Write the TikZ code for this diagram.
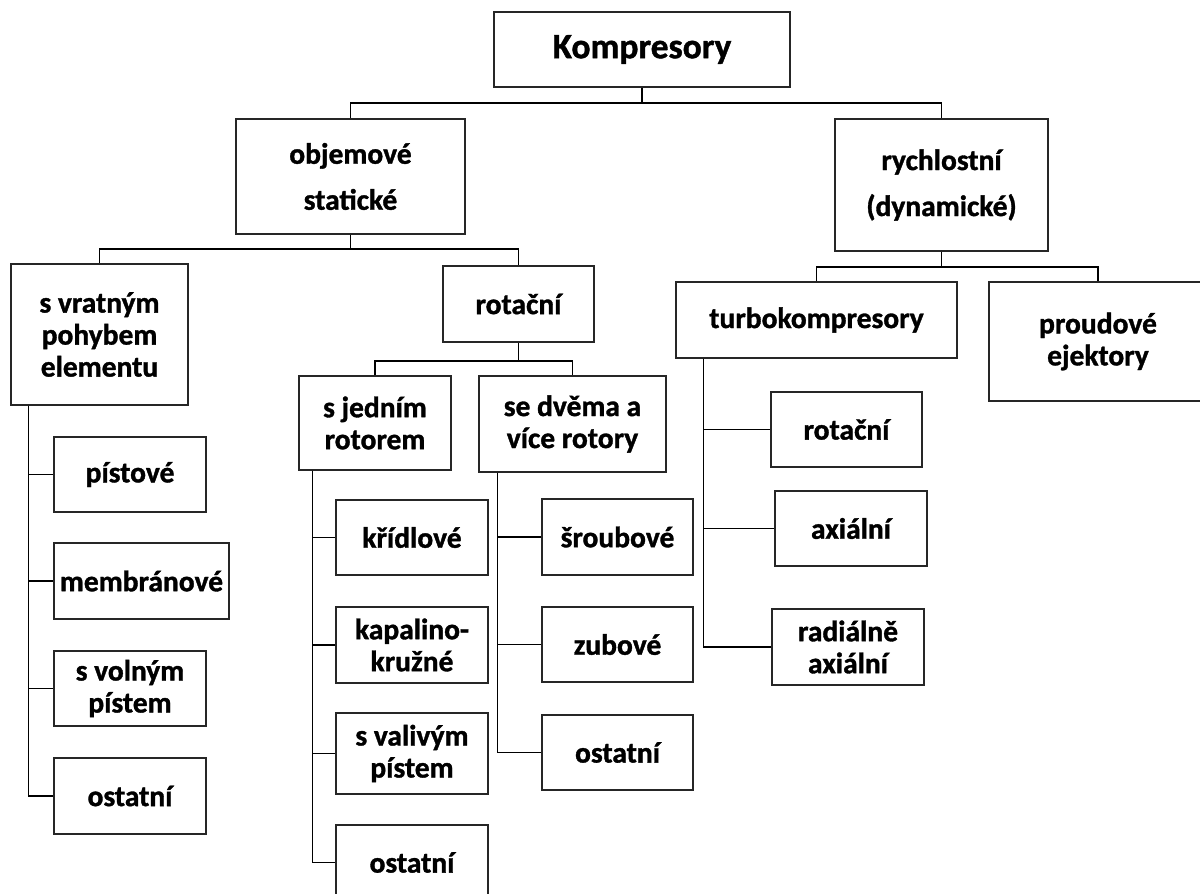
\documentclass[tikz,border=0pt]{standalone}
\usepackage{fontspec}
\setmainfont{Carlito}[BoldFeatures={FakeBold=1.2}]
\begin{document}
\begin{tikzpicture}[x=1pt,y=-1pt,
  box/.style={draw=black!85, line width=1.2pt, fill=white, inner sep=0pt, align=center,
    font=\fontsize{29.5}{32}\selectfont\bfseries},
  tall/.style={font=\fontsize{29.5}{46}\selectfont\bfseries},
  conn/.style={line width=1.5pt, black}]
\useasboundingbox (0,0) rectangle (1200,894);
\clip (0,0) rectangle (1200,894);
\fill[white] (0,0) rectangle (1200,894);

% level 0 and 1
\node[box, minimum width=296, minimum height=75, font=\fontsize{35.5}{40}\selectfont\bfseries] (komp) at (642,49.5) {Kompresory};
\node[box, tall, minimum width=229, minimum height=115] (obj) at (350.5,176.5) {objemové\\statické};
\node[box, tall, minimum width=213, minimum height=132] (rych) at (941.5,185) {rychlostní\\(dynamické)};

% level 2
\node[box, minimum width=177, minimum height=141] (vrat) at (99.5,334.5) {s vratným\\pohybem\\elementu};
\node[box, minimum width=151, minimum height=76] (rot) at (518.5,304) {rotační};
\node[box, minimum width=281, minimum height=76] (turbo) at (816.5,320) {turbokompresory};
\node[box, minimum width=218, minimum height=119] (proud) at (1098,341.5) {proudové\\ejektory};

% s vratnym children
\node[box, minimum width=152, minimum height=75] (pist) at (130,474.5) {pístové};
\node[box, minimum width=175, minimum height=76] (memb) at (141.5,581) {membránové};
\node[box, minimum width=152, minimum height=75] (volny) at (130,688.5) {s volným\\pístem};
\node[box, minimum width=152, minimum height=76] (ost1) at (130,796) {ostatní};

% rotacni children
\node[box, minimum width=152, minimum height=94] (jeden) at (375,423) {s jedním\\rotorem};
\node[box, minimum width=187, minimum height=96] (dvema) at (572.5,424) {se dvěma a\\více rotory};

\node[box, minimum width=152, minimum height=75] (kridl) at (412,537.5) {křídlové};
\node[box, minimum width=152, minimum height=76] (kapal) at (412,645) {kapalino-\\kružné};
\node[box, minimum width=152, minimum height=81] (valiv) at (412,753.5) {s valivým\\pístem};
\node[box, minimum width=152, minimum height=75] (ost2) at (412,862.5) {ostatní};

\node[box, minimum width=151, minimum height=76] (srou) at (617.5,537) {šroubové};
\node[box, minimum width=151, minimum height=75] (zub) at (617.5,644.5) {zubové};
\node[box, minimum width=151, minimum height=75] (ost3) at (617.5,752.5) {ostatní};

% turbo children
\node[box, minimum width=151, minimum height=75] (trot) at (846.5,429.5) {rotační};
\node[box, minimum width=152, minimum height=75] (tax) at (851,528.5) {axiální};
\node[box, minimum width=152, minimum height=76] (trad) at (848,647) {radiálně\\axiální};

% buses
\coordinate (b1) at (642,103);
\draw[conn] (komp.south) -- (b1);
\draw[conn] (b1) -| (obj.north);
\draw[conn] (b1) -| (rych.north);

\coordinate (b2) at (350.5,249);
\draw[conn] (obj.south) -- (b2);
\draw[conn] (b2) -| (vrat.north);
\draw[conn] (b2) -| (rot.north);

\coordinate (b3) at (518.5,361);
\draw[conn] (rot.south) -- (b3);
\draw[conn] (b3) -| (jeden.north);
\draw[conn] (b3) -| (dvema.north);

\coordinate (b4) at (941.5,267);
\draw[conn] (rych.south) -- (b4);
\draw[conn] (b4) -| (turbo.north);
\draw[conn] (b4) -| (proud.north);

% trunks
\coordinate (t1) at ([xshift=18pt]vrat.south west);
\draw[conn] (t1) |- (pist.west);
\draw[conn] (t1) |- (memb.west);
\draw[conn] (t1) |- (volny.west);
\draw[conn] (t1) |- (ost1.west);

\coordinate (t2) at ([xshift=14pt]jeden.south west);
\draw[conn] (t2) |- (kridl.west);
\draw[conn] (t2) |- (kapal.west);
\draw[conn] (t2) |- (valiv.west);
\draw[conn] (t2) |- (ost2.west);

\coordinate (t3) at ([xshift=19pt]dvema.south west);
\draw[conn] (t3) |- (srou.west);
\draw[conn] (t3) |- (zub.west);
\draw[conn] (t3) |- (ost3.west);

\coordinate (t4) at ([xshift=28pt]turbo.south west);
\draw[conn] (t4) |- (trot.west);
\draw[conn] (t4) |- (tax.west);
\draw[conn] (t4) |- (trad.west);
\end{tikzpicture}
\end{document}
